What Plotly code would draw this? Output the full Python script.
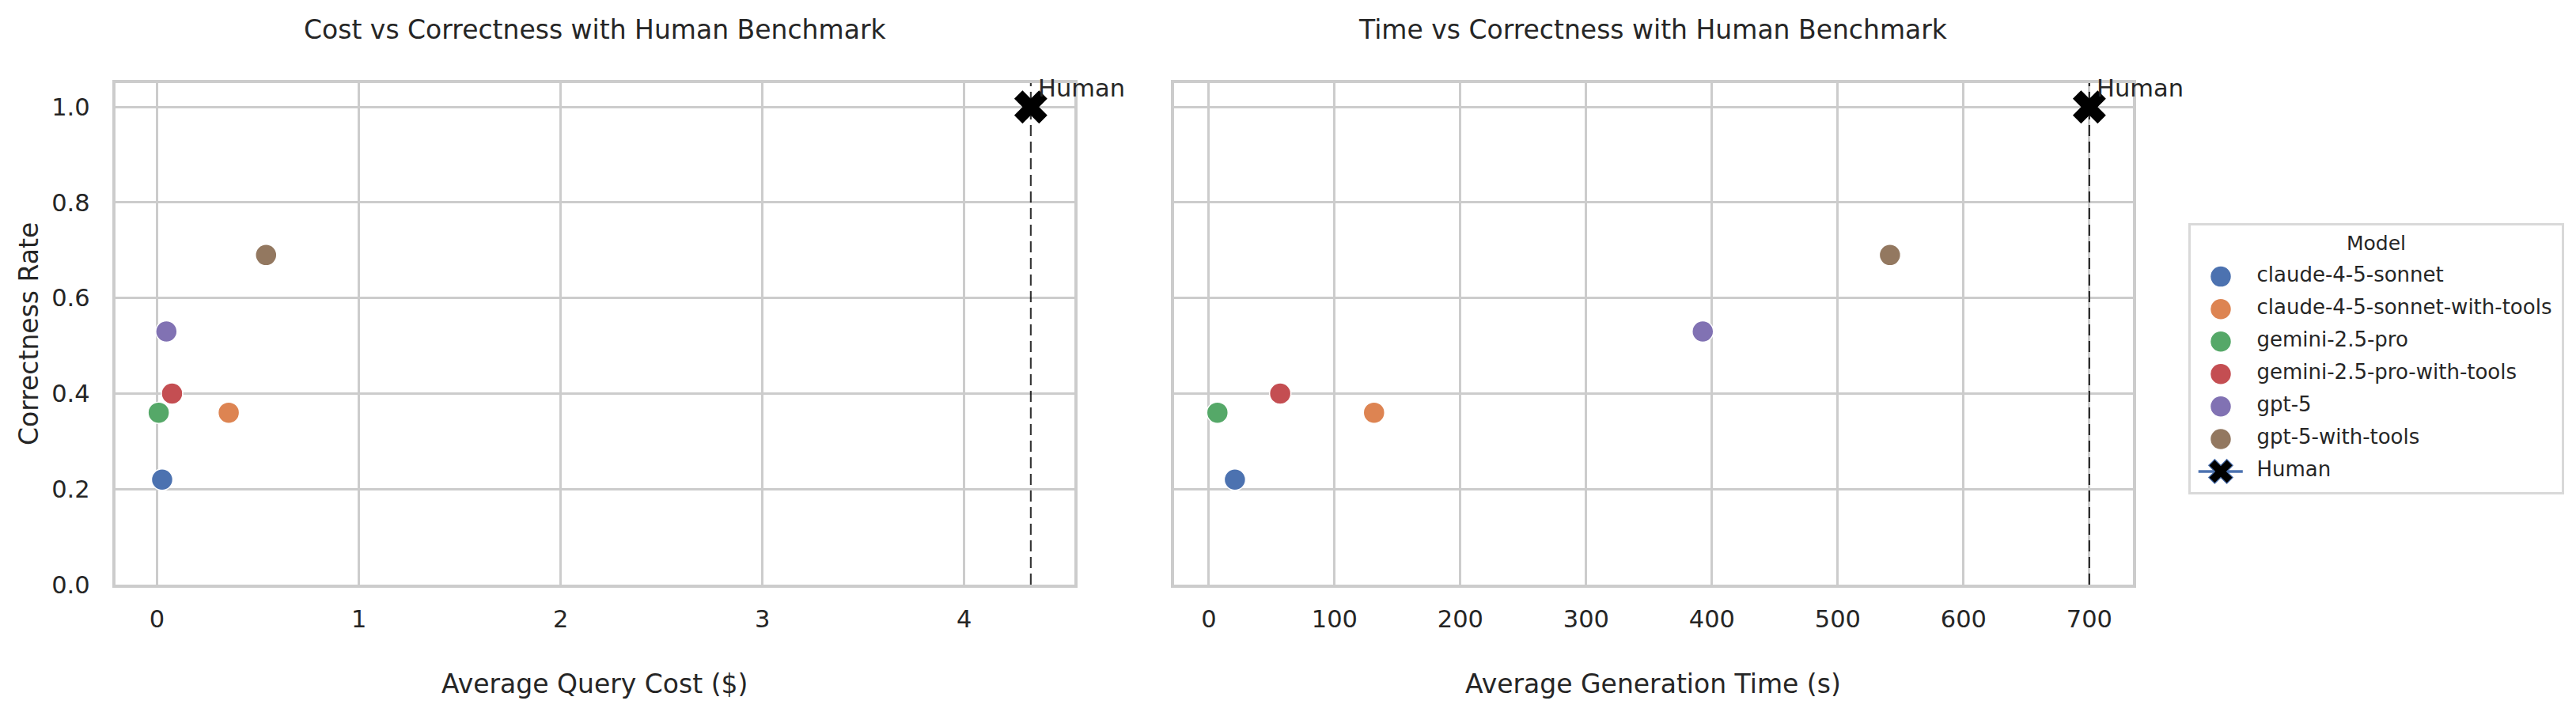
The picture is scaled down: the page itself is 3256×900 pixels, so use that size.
import plotly.graph_objects as go

# ---------------- data ----------------
models = ["claude-4-5-sonnet", "claude-4-5-sonnet-with-tools", "gemini-2.5-pro",
          "gemini-2.5-pro-with-tools", "gpt-5", "gpt-5-with-tools"]
avg_cost = [0.025, 0.355, 0.008, 0.074, 0.046, 0.54]
avg_time = [20.8, 131.4, 6.9, 56.8, 392.7, 541.5]
correctness = [0.22, 0.36, 0.36, 0.40, 0.53, 0.69]
colors = ["#4c72b0", "#dd8452", "#55a868", "#c44e52", "#8172b3", "#937860"]

human_label = "Human"
human_cost = 4.33
human_time = 700.0
human_correct = 1.0

y_ticks = [0.0, 0.2, 0.4, 0.6, 0.8, 1.0]
cost_ticks = [0, 1, 2, 3, 4]
time_ticks = [0, 100, 200, 300, 400, 500, 600, 700]

# ---------------- style ----------------
FONT = "DejaVu Sans"
TXT = "#262626"
GRID = "#cccccc"
PAGE_W, PAGE_H = 3256, 900
BODY_MARGIN = 8                      # default browser body margin
W, H = PAGE_W - 2 * BODY_MARGIN, PAGE_H - 2 * BODY_MARGIN


def px(x):   # page pixel x -> paper fraction
    return (x - BODY_MARGIN) / W


def py(y):   # page pixel y (from top) -> paper fraction
    return 1 - (y - BODY_MARGIN) / H


def margin_range(vals, m=0.05):
    lo, hi = min(vals), max(vals)
    s = hi - lo
    return [lo - m * s, hi + m * s]


fig = go.Figure()

panels = (("x", "y", avg_cost, human_cost), ("x2", "y2", avg_time, human_time))

for xa, ya, xs, hx in panels:
    # dashed benchmark line (below markers)
    fig.add_trace(go.Scatter(
        x=[hx, hx], y=[0, 1.05], mode="lines",
        line=dict(color="rgba(0,0,0,0.78)", width=2.2, dash="14px,7px"),
        xaxis=xa, yaxis=ya, showlegend=False, hoverinfo="skip"))
    for i, name in enumerate(models):
        fig.add_trace(go.Scatter(
            x=[xs[i]], y=[correctness[i]], mode="markers", name=name,
            marker=dict(size=27, color=colors[i], line=dict(color="white", width=1.5)),
            xaxis=xa, yaxis=ya, showlegend=False))
    # human benchmark
    fig.add_trace(go.Scatter(
        x=[hx], y=[human_correct], mode="markers", name=human_label,
        marker=dict(symbol="x", size=37, color="black", line=dict(width=0)),
        xaxis=xa, yaxis=ya, showlegend=False, cliponaxis=False))
    fig.add_annotation(x=hx * 1.01, y=human_correct, xref=xa, yref=ya,
                       text=human_label, showarrow=False, xanchor="left",
                       yanchor="middle", yshift=24, xshift=-4,
                       font=dict(family=FONT, size=30.5, color=TXT))

# ---------------- custom legend (own axes) ----------------
leg_idx = list(range(len(models)))
fig.add_trace(go.Scatter(
    x=[0.081] * len(models), y=leg_idx, mode="markers",
    marker=dict(size=27, color=colors, line=dict(color="white", width=1.5)),
    xaxis="x3", yaxis="y3", showlegend=False, hoverinfo="skip"))
fig.add_trace(go.Scatter(
    x=[0.0207, 0.1403], y=[len(models), len(models)], mode="lines",
    line=dict(color="#4c72b0", width=3.5),
    xaxis="x3", yaxis="y3", showlegend=False, hoverinfo="skip"))
fig.add_trace(go.Scatter(
    x=[0.081], y=[len(models)], mode="markers",
    marker=dict(symbol="x", size=27, color="black", line=dict(color="#4c72b0", width=1.2)),
    xaxis="x3", yaxis="y3", showlegend=False, hoverinfo="skip"))
fig.add_trace(go.Scatter(
    x=[0.178] * (len(models) + 1), y=leg_idx + [len(models)], mode="text",
    text=models + [human_label], textposition="middle right",
    textfont=dict(family=FONT, size=26, color=TXT),
    xaxis="x3", yaxis="y3", showlegend=False, hoverinfo="skip"))
fig.add_annotation(x=0.501, y=-1.017, xref="x3", yref="y3", text="Model",
                   showarrow=False, xanchor="center", yanchor="middle",
                   font=dict(family=FONT, size=25, color=TXT))

# ---------------- axes ----------------
axis_common = dict(showgrid=True, gridcolor=GRID, gridwidth=2.8, showline=True,
                   linecolor=GRID, linewidth=3.5, mirror=True, zeroline=False,
                   automargin=False,
                   ticks="", tickfont=dict(family=FONT, size=30.5, color=TXT))

fig.update_layout(
    width=W, height=H,
    margin=dict(l=0, r=0, t=0, b=0, pad=0, autoexpand=False),
    paper_bgcolor="white", plot_bgcolor="white",
    font=dict(family=FONT, color=TXT),
    xaxis=dict(domain=[px(145.5), px(1358)], range=margin_range(avg_cost + [human_cost]),
               tickvals=cost_ticks, ticktext=[str(t) for t in cost_ticks],
               ticklabelstandoff=14, anchor="y", **axis_common),
    xaxis2=dict(domain=[px(1483.7), px(2696)], range=margin_range(avg_time + [human_time]),
                tickvals=time_ticks, ticktext=[str(t) for t in time_ticks],
                ticklabelstandoff=14, anchor="y2", **axis_common),
    yaxis=dict(domain=[py(739), py(105)], range=[0, 1.05], tickvals=y_ticks,
               ticktext=[f"{t:.1f}" for t in y_ticks], ticklabelstandoff=22,
               anchor="x", **axis_common),
    yaxis2=dict(domain=[py(739), py(105)], range=[0, 1.05], tickvals=y_ticks,
                showticklabels=False, anchor="x2", **axis_common),
    xaxis3=dict(domain=[px(2769), px(3238)], range=[0, 1], showgrid=False, zeroline=False,
                showticklabels=False, showline=True, mirror=True, linecolor="#d9d9d9",
                linewidth=2.5, fixedrange=True, anchor="y3", automargin=False),
    yaxis3=dict(domain=[py(622), py(285)], range=[6.634, -1.574], showgrid=False,
                zeroline=False, showticklabels=False, showline=True, mirror=True,
                linecolor="#d9d9d9", linewidth=2.5, fixedrange=True, anchor="x3",
                automargin=False),
    showlegend=False,
)

# titles
for cx, title in ((px(751.7), "Cost vs Correctness with Human Benchmark"),
                  (px(2089.8), "Time vs Correctness with Human Benchmark")):
    fig.add_annotation(x=cx, y=py(38), xref="paper", yref="paper", text=title,
                       showarrow=False, xanchor="center", yanchor="middle",
                       font=dict(family=FONT, size=33, color=TXT))
for cx, lab in ((px(751.7), "Average Query Cost ($)"),
                (px(2089.8), "Average Generation Time (s)")):
    fig.add_annotation(x=cx, y=py(864), xref="paper", yref="paper", text=lab,
                       showarrow=False, xanchor="center", yanchor="middle",
                       font=dict(family=FONT, size=33, color=TXT))
fig.add_annotation(x=px(36), y=py(422), xref="paper", yref="paper",
                   text="Correctness Rate", textangle=-90, showarrow=False,
                   xanchor="center", yanchor="middle",
                   font=dict(family=FONT, size=33, color=TXT))

fig.write_html("out.html", config={"displayModeBar": False})
